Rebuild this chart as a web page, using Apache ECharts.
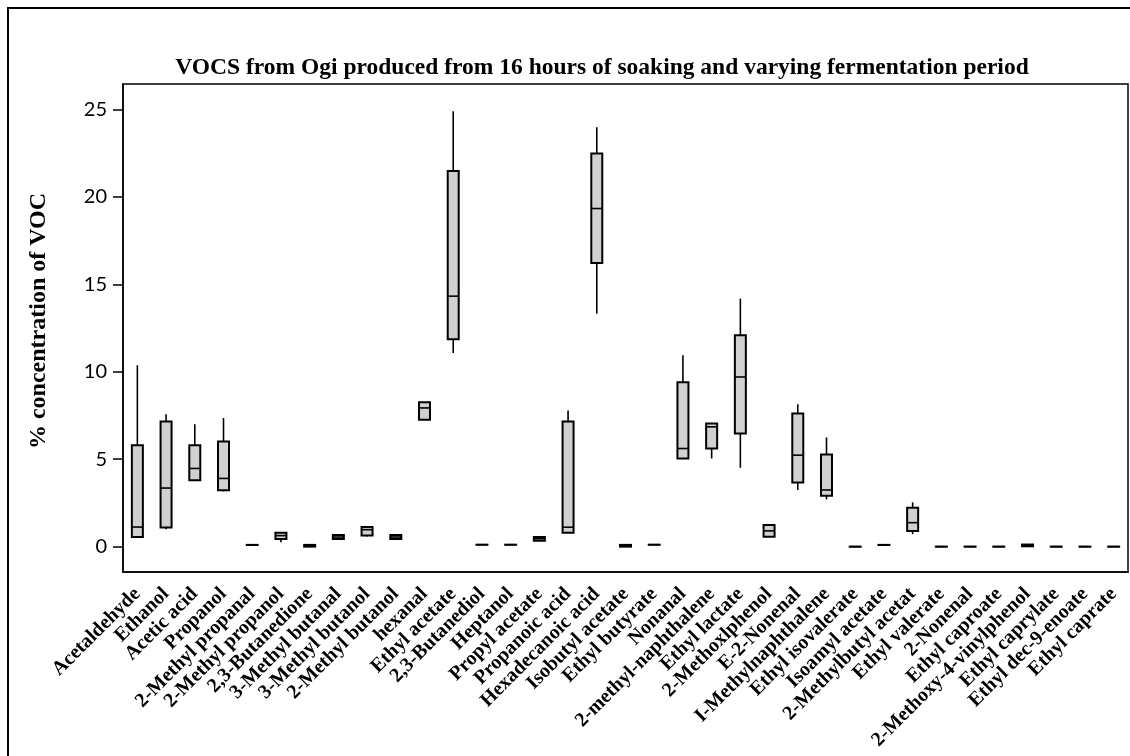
<!DOCTYPE html>
<html>
<head>
<meta charset="utf-8">
<script src="https://cdn.jsdelivr.net/npm/echarts@6/dist/echarts.min.js"></script>
<style>html,body{margin:0;padding:0;background:#fff;}#c{width:1130px;height:756px;}</style>
</head>
<body>
<div id="c"></div>
<script>
const categories = ["Acetaldehyde","Ethanol","Acetic acid","Propanol","2-Methyl propanal","2-Methyl propanol","2,3-Butanedione","3-Methyl butanal","3-Methyl butanol","2-Methyl butanol","hexanal","Ethyl acetate","2,3-Butanediol","Heptanol","Propyl acetate","Propanoic acid","Hexadecanoic acid","Isobutyl acetate","Ethyl butyrate","Nonanal","2-methyl-naphthalene","Ethyl lactate","2-Methoxlphenol","E-2-Nonenal","I-Methylnaphthalene","Ethyl isovalerate","Isoamyl acetate","2-Methylbutyl acetat","Ethyl valerate","2-Nonenal","Ethyl caproate","2-Methoxy-4-vinylphenol","Ethyl caprylate","Ethyl dec-9-enoate","Ethyl caprate"];
const minV = [0.55,1.00,3.79,3.15,0.10,0.25,0.00,0.44,0.58,0.44,7.26,11.07,0.11,0.11,0.33,0.79,13.32,0.00,0.11,5.04,5.04,4.51,0.57,3.24,2.70,0.00,0.10,0.71,0.00,0.00,0.00,0.02,0.00,0.00,0.00];
const q1V  = [0.55,1.10,3.79,3.22,0.10,0.44,0.00,0.44,0.63,0.44,7.26,11.86,0.11,0.11,0.33,0.79,16.22,0.00,0.11,5.04,5.61,6.47,0.57,3.67,2.91,0.00,0.10,0.90,0.00,0.00,0.00,0.02,0.00,0.00,0.00];
const medV = [1.12,3.35,4.47,3.90,0.10,0.63,0.05,0.55,0.97,0.55,7.93,14.32,0.11,0.11,0.45,1.11,19.33,0.05,0.11,5.61,6.85,9.70,0.90,5.23,3.24,0.00,0.10,1.37,0.00,0.00,0.00,0.07,0.00,0.00,0.00];
const q3V  = [5.80,7.15,5.80,6.01,0.10,0.80,0.10,0.67,1.12,0.67,8.26,21.47,0.11,0.11,0.55,7.16,22.47,0.10,0.11,9.40,7.04,12.08,1.24,7.61,5.27,0.00,0.10,2.23,0.00,0.00,0.00,0.12,0.00,0.00,0.00];
const maxV = [10.37,7.57,7.00,7.35,0.10,0.80,0.10,0.67,1.12,0.67,8.26,24.89,0.11,0.11,0.55,7.79,23.98,0.10,0.11,10.94,7.04,14.18,1.24,8.14,6.24,0.00,0.10,2.53,0.00,0.00,0.00,0.12,0.00,0.00,0.00];
const yTicks = [0,5,10,15,20,25];

const chart = echarts.init(document.getElementById('c'), null, {renderer:'canvas'});
const data = categories.map((n,i)=>[i, minV[i], q1V[i], medV[i], q3V[i], maxV[i]]);

function renderItem(params, api){
  const x = api.value(0);
  const pMin = api.coord([x, api.value(1)]);
  const pQ1 = api.coord([x, api.value(2)]);
  const pMed = api.coord([x, api.value(3)]);
  const pQ3 = api.coord([x, api.value(4)]);
  const pMax = api.coord([x, api.value(5)]);
  const w = 11, cx = pMed[0];
  const ls = {stroke:'#000', lineWidth:1.6};
  const children = [];
  if (pMax[1] < pQ3[1] - 0.5) children.push({type:'line', shape:{x1:cx,y1:pMax[1],x2:cx,y2:pQ3[1]}, style:ls});
  if (pMin[1] > pQ1[1] + 0.5) children.push({type:'line', shape:{x1:cx,y1:pQ1[1],x2:cx,y2:pMin[1]}, style:ls});
  children.push({type:'rect', shape:{x:cx-w/2, y:pQ3[1], width:w, height:Math.max(pQ1[1]-pQ3[1],0.01)}, style:{fill:'#d0d0d0', stroke:'#000', lineWidth:2}});
  children.push({type:'line', shape:{x1:cx-w/2,y1:pMed[1],x2:cx+w/2,y2:pMed[1]}, style:ls});
  return {type:'group', children};
}

chart.setOption({
  animation:false,
  backgroundColor:'#fff',
  title:{
    text:'VOCS from Ogi produced from 16 hours of soaking and varying fermentation period',
    left:597, top:51, textAlign:'center',
    textStyle:{fontFamily:'Liberation Serif', fontWeight:'bold', fontSize:23.5, color:'#000'}
  },
  graphic:[{type:'rect', shape:{x:8,y:8,width:1140,height:770}, style:{fill:'none', stroke:'#000', lineWidth:2}, z:-1}],
  grid:{left:123, right:2, top:84, bottom:184, show:true, borderColor:'#000', borderWidth:1.5, backgroundColor:'transparent'},
  xAxis:{
    type:'category', data:categories, boundaryGap:true,
    axisLine:{onZero:false, lineStyle:{color:'#000', width:1.5}},
    axisTick:{alignWithLabel:true, length:8, lineStyle:{color:'#000', width:1.5}},
    axisLabel:{interval:0, rotate:45, margin:19, color:'#000', fontFamily:'Liberation Serif', fontWeight:'bold', fontSize:20}
  },
  yAxis:{
    type:'value', min:-1.45, max:26.45,
    name:'% concentration of VOC', nameLocation:'middle', nameGap:72, nameRotate:90,
    nameTextStyle:{fontFamily:'Liberation Serif', fontWeight:'bold', fontSize:24, color:'#000', padding:[0,0,0,14]},
    splitLine:{show:false},
    axisLine:{show:true, lineStyle:{color:'#000', width:1.5}},
    axisTick:{show:true, length:10, customValues:yTicks, lineStyle:{color:'#000', width:1.5}},
    axisLabel:{customValues:yTicks, margin:16, color:'#000', fontFamily:'Lato', fontSize:20}
  },
  series:[{type:'custom', renderItem, data, encode:{x:0, y:[1,2,3,4,5]}, clip:false}]
});
</script>
</body>
</html>
